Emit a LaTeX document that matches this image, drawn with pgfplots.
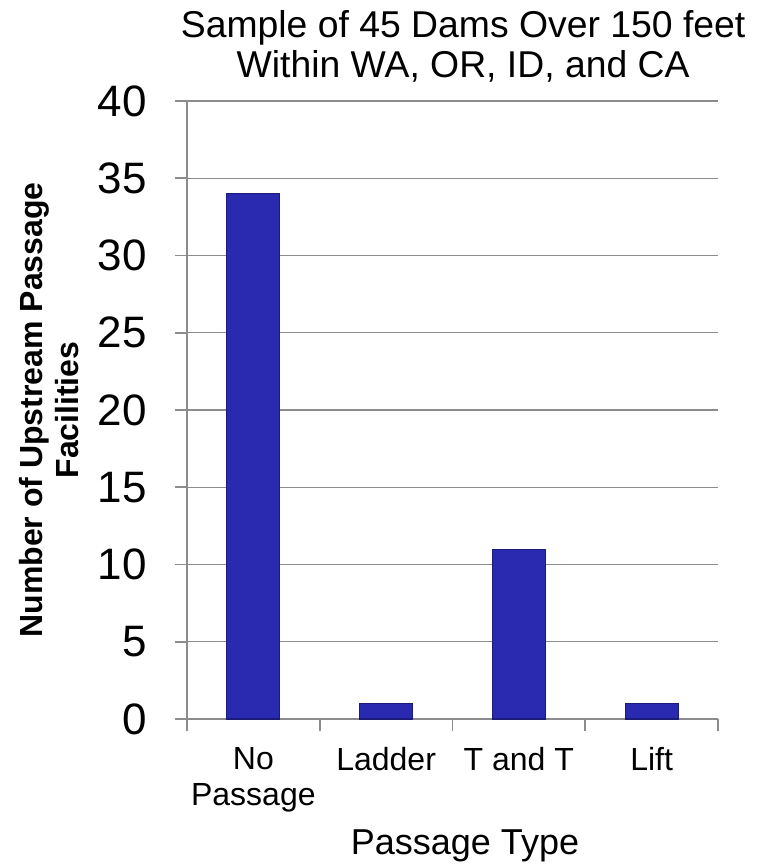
\documentclass[border=0pt]{standalone}
\usepackage{fontspec}
\setmainfont{Liberation Sans}
\usepackage{pgfplots}
\pgfplotsset{compat=1.18}
\definecolor{barblue}{RGB}{42,42,176}
\definecolor{baredge}{RGB}{28,28,120}
\definecolor{axgray}{RGB}{140,140,140}
\begin{document}
\begin{tikzpicture}
\begin{axis}[
  at={(140.25pt,-539.25pt)}, anchor=south west,
  scale only axis, width=398.25pt, height=463.5pt,
  xmin=0.5, xmax=4.5, ymin=0, ymax=40,
  axis lines*=left,
  axis line style={-, draw=axgray, line width=1.2pt},
  ymajorgrids, major grid style={draw=axgray, line width=1pt},
  ytick={0,5,...,40},
  xtick={0.5,1.5,2.5,3.5,4.5},
  x tick label as interval,
  xticklabels={No\\Passage,Ladder,T and T,Lift},
  tick align=outside,
  tick style={draw=axgray, line width=1.2pt},
  major tick length=9pt,
  /pgf/number format/assume math mode=true,
  yticklabel style={font=\fontsize{33}{36}\selectfont, anchor=east, inner sep=0pt, xshift=-21pt},
  xticklabel style={font=\fontsize{24}{27.5}\selectfont, align=center, anchor=north, inner sep=0pt, yshift=-12pt},
  title={Sample of 45 Dams Over 150 feet\\Within WA, OR, ID, and CA},
  title style={font=\fontsize{28}{30}\selectfont, align=center, at={(axis description cs:0.52,1)}, anchor=south, inner sep=0pt, yshift=7.5pt},
  xlabel={Passage Type},
  xlabel style={font=\fontsize{27}{30}\selectfont, at={(axis description cs:0.5235,0)}, anchor=north, inner sep=0pt, yshift=-82.5pt},
  ylabel={Number of Upstream Passage\\Facilities},
  ylabel style={font=\fontsize{24}{27}\selectfont\bfseries, align=center, at={(axis description cs:-0.2605,0.5)}, anchor=center, inner sep=0pt},
  ybar, bar width=39.75pt,
]
\addplot[fill=barblue, draw=baredge, line width=0.8pt] coordinates {(1,34) (2,1) (3,11) (4,1)};
\end{axis}
\pgfresetboundingbox
\path (0,0) rectangle (570.75pt,-650.25pt);
\end{tikzpicture}
\end{document}
